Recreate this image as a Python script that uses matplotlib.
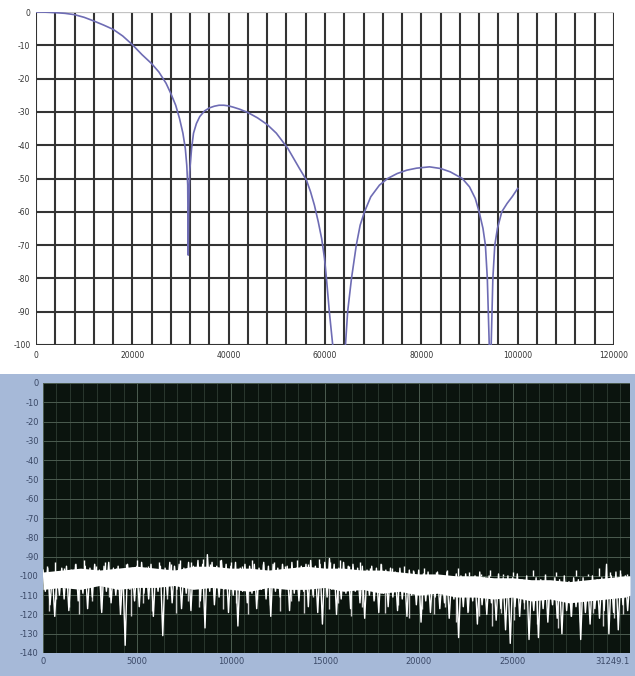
import numpy as np
import matplotlib
matplotlib.use("Agg")
import matplotlib.pyplot as plt
from matplotlib.patches import Rectangle
from matplotlib.ticker import MultipleLocator

plt.rcParams["axes.unicode_minus"] = False

# =========================
# 1. DATA - filter response (top)
# =========================
resp_freq = [0, 2000, 4000, 6000, 8000, 10000, 12000, 14000, 16000, 18000,
             20000, 22000, 24000, 25500, 27000, 28000, 29000, 29800, 30500, 31000,
             31300, 31500, 31600,
             31700, 31900, 32300, 32700, 33300, 34000, 35000, 36000, 37000, 38000,
             39000, 40000, 41000, 42300, 44000, 46000, 48000, 49900, 51000, 52300,
             53500, 54700, 56150, 57000, 57800, 58600, 59300, 59900, 60300, 60900,
             61600, 62900,
             64250, 64700, 65500, 66500, 67300, 68200, 69500, 71300, 73000, 75000,
             77000, 79000, 81700, 84000, 86000, 88500, 90000, 91200, 92000, 92800,
             93300, 93700, 94100, 94300,
             94500, 94850, 95250, 95800, 96700, 97800, 98900, 100000]
resp_db = [0, -0.05, -0.2, -0.4, -0.8, -1.6, -2.7, -3.9, -5.2, -7.2,
           -9.8, -12.8, -15.5, -18, -21.4, -24.5, -28, -32, -36.4, -41,
           -46, -52, -73,
           -60, -48, -41, -36.4, -33.5, -31.4, -29.7, -28.8, -28.3, -28.0,
           -28.0, -28.2, -28.6, -29.2, -30.2, -31.8, -33.8, -36.4, -38.5, -41,
           -44, -47, -50.5, -54, -58, -63, -68, -74, -80, -90,
           -100, -125,
           -100, -90, -80, -70, -64, -60, -55.5, -52, -50, -48.5,
           -47.5, -46.9, -46.5, -47, -48, -50, -52.5, -56, -60, -65,
           -70, -80, -100, -115,
           -100, -80, -70, -65, -60, -57.5, -55.4, -53]

# =========================
# 2. DATA - noise spectrum (bottom)
# =========================
noise_step = 125
noise_db = [
    -97, -108, -96, -115, -99, -121, -98, -110, -96, -112,
    -95, -118, -97, -106, -94, -113, -98, -109, -95, -117,
    -96, -111, -94, -105, -97, -119, -95, -108, -93, -114,
    -96, -110, -95, -120, -97, -136, -94, -107, -96, -113,
    -95, -116, -93, -109, -96, -112, -94, -121, -97, -108,
    -95, -131, -96, -110, -93, -114, -95, -107, -94, -117,
    -96, -109, -93, -118, -95, -106, -92, -113, -94, -127,
    -89, -108, -93, -115, -95, -111, -92, -107, -94, -119,
    -95, -110, -93, -126, -96, -108, -94, -114, -95, -109,
    -94, -117, -96, -107, -93, -112, -95, -121, -94, -108,
    -96, -111, -94, -106, -95, -118, -93, -109, -96, -113,
    -95, -108, -94, -116, -92, -110, -95, -119, -94, -125,
    -93, -111, -91, -107, -94, -120, -96, -112, -93, -109,
    -95, -117, -94, -108, -96, -114, -95, -122, -97, -110,
    -95, -113, -96, -119, -94, -109, -97, -116, -96, -111,
    -98, -118, -96, -112, -99, -121, -97, -110, -98, -115,
    -97, -124, -99, -113, -98, -119, -100, -111, -98, -117,
    -100, -114, -98, -122, -101, -112, -99, -132, -100, -116,
    -99, -119, -101, -113, -100, -125, -98, -115, -101, -120,
    -100, -114, -102, -123, -99, -117, -101, -128, -100, -135,
    -101, -116, -99, -121, -102, -114, -100, -133, -103, -118,
    -101, -132, -102, -117, -100, -124, -103, -115, -101, -122,
    -102, -130, -100, -118, -103, -121, -101, -116, -102, -133,
    -101, -119, -103, -125, -100, -117, -102, -122, -101, -118,
    -94, -130, -100, -119, -98, -128, -99, -115, -100, -118,
    -101,
]
noise_freq = np.arange(len(noise_db)) * noise_step

# extra downward spikes between the trace samples
spike_freq = [300, 700, 1400, 1900, 2600, 3100, 3500, 4100, 4700, 5300, 5800,
              6600, 7100, 7700, 8300, 9100, 9600, 10300, 10900, 11400, 12100,
              12600, 13200, 13900, 14400, 15200, 15700, 16400, 17000, 17600,
              18200, 18900, 19500, 20200, 20800, 21400, 22000, 22600, 23200,
              23900, 24400, 25100, 25600, 26300, 26900, 27400, 28100, 28600,
              29300, 29800, 30400, 30900]
spike_db = [-118, -112, -116, -120, -113, -117, -111, -115, -121, -114, -118,
            -112, -119, -113, -116, -110, -117, -114, -120, -112, -115,
            -118, -113, -119, -111, -117, -114, -121, -116, -112,
            -119, -115, -122, -117, -120, -116, -124, -118, -121,
            -126, -119, -123, -117, -125, -120, -127, -121, -124,
            -119, -126, -122, -120]

# upward peaks on the top edge of the band
peak_freq = [200, 650, 1100, 1700, 2200, 2800, 3300, 3900, 4400, 5000, 5600,
             6200, 6800, 7300, 7900, 8500, 8900, 9400, 10000, 10600, 11100,
             11700, 12300, 12900, 13500, 14100, 14700, 15300, 15800, 16300,
             16900, 17400, 18000, 18600, 19200, 19700, 20300, 20900, 21500,
             22100, 22700, 23300, 23800, 24500, 25000, 25500, 26100, 26700,
             27300, 27900, 28400, 29000, 29600, 30200, 30700, 31100]
peak_db = [-95, -93, -96, -94, -92, -95, -93, -96, -94, -92, -95,
           -93, -94, -92, -93, -91, -94, -92, -93, -95, -92,
           -94, -93, -95, -92, -94, -91, -93, -92, -95,
           -93, -96, -94, -96, -95, -97, -96, -98, -97,
           -96, -98, -99, -97, -99, -98, -100, -97, -99,
           -98, -100, -97, -99, -96, -98, -97, -99]

# dense white core of the noise band
band_freq = list(range(0, 31001, 1000)) + [31249]
band_top = [-98, -97, -96, -97, -96, -95, -96, -97, -95, -95, -96, -96, -97,
            -96, -95, -96, -96, -97, -97, -98, -99, -99, -100, -100, -101,
            -101, -102, -102, -103, -102, -101, -100, -100]
band_bot = [-107, -106, -107, -105, -107, -106, -106, -105, -107, -106, -107,
            -108, -106, -107, -107, -106, -108, -107, -109, -108, -110, -109,
            -111, -111, -112, -111, -113, -112, -114, -113, -112, -111, -110]

f_max = 31249.1
x_ticks_bottom = [0, 5000, 10000, 15000, 20000, 25000]

# =========================
# 3. FIGURE
# =========================
fig = plt.figure(figsize=(6.35, 6.76), dpi=100)
fig.patch.set_facecolor("white")

# blue frame of the lower window
fig.patches.append(Rectangle((0, 0), 1, 1 - 374 / 676, transform=fig.transFigure,
                             facecolor="#a6b9d8", edgecolor="none", zorder=-10))

# ---- top chart ----
ax1 = fig.add_axes([36 / 635, 1 - 345 / 676, 578 / 635, 333 / 676])
ax1.plot(resp_freq, resp_db, color="#6e6cb4", lw=1.2, zorder=3)
ax1.set_xlim(0, 120000)
ax1.set_ylim(-100, 0)
ax1.set_xticks(range(0, 120001, 20000))
ax1.set_yticks(range(-100, 1, 10))
ax1.xaxis.set_minor_locator(MultipleLocator(4000))
ax1.grid(True, which="both", color="#333333", lw=1.5)
for s in ax1.spines.values():
    s.set_visible(False)
ax1.axhline(0, color="#c8c8c8", lw=1.4, zorder=2)
ax1.tick_params(which="both", length=0, labelsize=5.5, labelcolor="#333333", pad=4)

# ---- bottom chart ----
ax2 = fig.add_axes([43 / 635, 1 - 653 / 676, 587 / 635, 270 / 676])
ax2.set_zorder(5)
ax2.set_facecolor("#0b140e")
ax2.vlines(spike_freq, spike_db, -104, color="#cfcfcf", lw=1.0, zorder=3)
ax2.vlines(peak_freq, -100, peak_db, color="white", lw=1.0, zorder=3)
ax2.fill_between(band_freq, band_bot, band_top, color="white", lw=0, zorder=3)
ax2.plot(noise_freq, noise_db, color="white", lw=1.0, zorder=4)
ax2.set_xlim(0, f_max)
ax2.set_ylim(-140, 0)
ax2.set_xticks(x_ticks_bottom + [f_max])
ax2.set_xticklabels([str(t) for t in x_ticks_bottom] + ["31249.1"])
ax2.get_xticklabels()[-1].set_horizontalalignment("right")
ax2.set_yticks(range(-140, 1, 10))
ax2.xaxis.set_minor_locator(MultipleLocator(5000 / 7))
ax2.grid(True, which="major", color="#4c5c50", lw=0.7)
ax2.grid(True, which="minor", axis="x", color="#2e3c33", lw=0.6)
for s in ax2.spines.values():
    s.set_visible(False)
ax2.tick_params(which="both", length=0, labelsize=6, labelcolor="#3a4866", pad=3)

plt.savefig("out.png", dpi=100)
